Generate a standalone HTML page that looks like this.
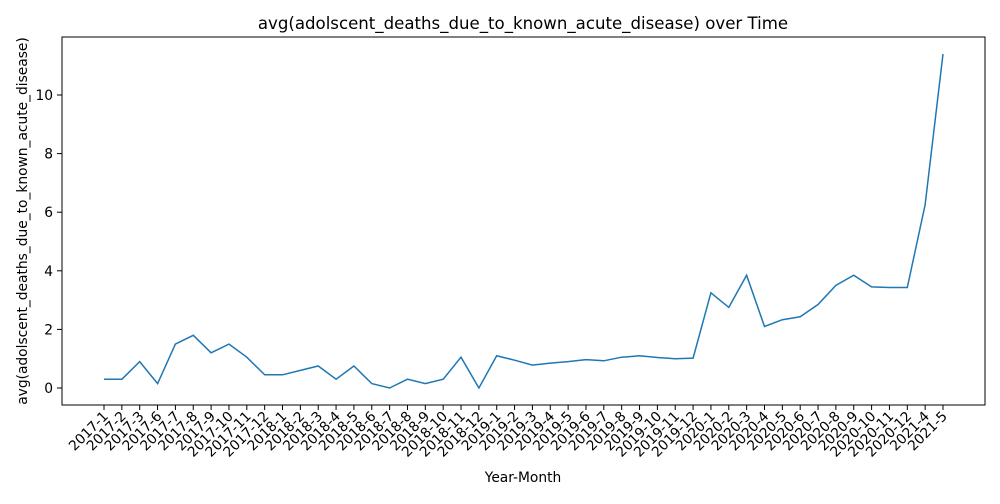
<!DOCTYPE html>
<html><head><meta charset="utf-8"><style>
body{margin:0;background:#fff;font-family:"DejaVu Sans","Liberation Sans",sans-serif;}
svg text{font-family:"DejaVu Sans","Liberation Sans",sans-serif;fill:#000}
</style></head><body>
<svg id="chart" width="1000" height="500">
<rect x="0" y="0" width="1000" height="500" fill="#fff"/>
<text x="523" y="29" font-size="16.6" text-anchor="middle">avg(adolscent_deaths_due_to_known_acute_disease) over Time</text>
<text x="523" y="482" font-size="13.8" text-anchor="middle">Year-Month</text>
<text transform="translate(27,221) rotate(-90)" font-size="13.8" text-anchor="middle">avg(adolscent_deaths_due_to_known_acute_disease)</text>
<g id="xticks"></g>
<g id="yticks"></g>
<path id="series" fill="none" stroke="#1f77b4" stroke-width="1.5"/>
<rect x="62" y="37" width="923" height="368" fill="none" stroke="#000" stroke-width="1"/>
</svg>
<script>
const categories=["2017-1","2017-2","2017-3","2017-6","2017-7","2017-8","2017-9","2017-10","2017-11","2017-12","2018-1","2018-2","2018-3","2018-4","2018-5","2018-6","2018-7","2018-8","2018-9","2018-10","2018-11","2018-12","2019-1","2019-2","2019-3","2019-4","2019-5","2019-6","2019-7","2019-8","2019-9","2019-10","2019-11","2019-12","2020-1","2020-2","2020-3","2020-4","2020-5","2020-6","2020-7","2020-8","2020-9","2020-10","2020-11","2020-12","2021-4","2021-5"];
const values=[0.3,0.3,0.9,0.15,1.5,1.8,1.2,1.5,1.05,0.45,0.45,0.6,0.75,0.3,0.75,0.15,0.0,0.3,0.15,0.3,1.05,0.0,1.1,0.95,0.78,0.85,0.9,0.97,0.93,1.05,1.1,1.04,1.0,1.02,3.25,2.75,3.85,2.1,2.33,2.43,2.85,3.5,3.85,3.45,3.43,3.43,6.25,11.4];
const yTicks=[0,2,4,6,8,10];
const NS="http://www.w3.org/2000/svg";
const x0=104,x1=943;
function xs(i){return x0+(x1-x0)*i/(categories.length-1);}
function ys(v){return 388-v*29.3;}
const xg=document.getElementById('xticks'),yg=document.getElementById('yticks');
categories.forEach((c,i)=>{
  const x=xs(i);
  const l=document.createElementNS(NS,'line');
  l.setAttribute('x1',x);l.setAttribute('x2',x);l.setAttribute('y1',405);l.setAttribute('y2',410);l.setAttribute('stroke','#000');
  
  
  xg.appendChild(l);
  const t=document.createElementNS(NS,'text');
  t.setAttribute('font-size','13.8');t.setAttribute('text-anchor','end');
  t.setAttribute('transform','translate('+(x+5)+',417) rotate(-45)');
  t.textContent=c;
  
  
  xg.appendChild(t);
});
yTicks.forEach(v=>{
  const y=ys(v);
  const l=document.createElementNS(NS,'line');
  l.setAttribute('x1',57);l.setAttribute('x2',62);l.setAttribute('y1',y);l.setAttribute('y2',y);l.setAttribute('stroke','#000');
  
  
  yg.appendChild(l);
  const t=document.createElementNS(NS,'text');
  t.setAttribute('font-size','13.8');t.setAttribute('text-anchor','end');
  t.setAttribute('x',53);t.setAttribute('y',y+5);
  t.textContent=v;
  
  
  yg.appendChild(t);
});
document.getElementById('series').setAttribute('d',values.map((v,i)=>(i?'L':'M')+xs(i).toFixed(1)+','+ys(v).toFixed(1)).join(''));
</script>
</body></html>
